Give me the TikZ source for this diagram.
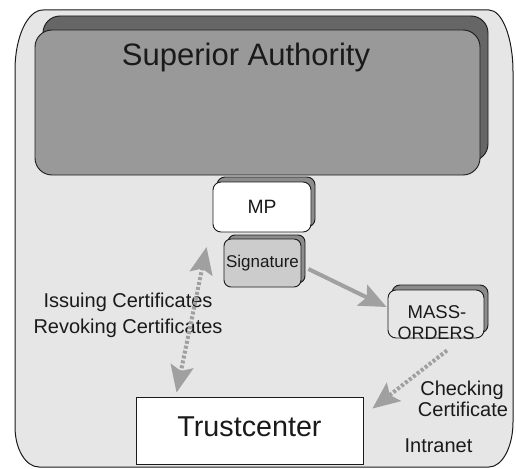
\documentclass[tikz,border=0pt]{standalone}
\usepackage{fontspec}
\setmainfont{Liberation Sans}
\usetikzlibrary{arrows.meta,shadows,calc}
\definecolor{bgc}{HTML}{E6E6E6}
\definecolor{safront}{HTML}{999999}
\definecolor{saback}{HTML}{666666}
\definecolor{shadowc}{HTML}{8C8C8C}
\definecolor{sigfill}{HTML}{CCCCCC}
\definecolor{arrc}{HTML}{A0A0A0}
\definecolor{txt}{HTML}{1A1A1A}
\begin{document}
\begin{tikzpicture}[x=1pt,y=-1pt,
  lbl/.style={inner sep=0pt, anchor=base, text=txt, font=\fontsize{20}{24}\selectfont},
  boxbase/.style={draw=txt, line width=0.9pt, inner sep=0pt, text=txt},
  solidarrow/.style={draw=arrc, line width=4pt, -{Stealth[length=27pt,width=23pt,inset=5pt]}},
  dotarrow/.style={draw=arrc, line width=4pt, dash pattern=on 3pt off 2pt},
  tipa/.tip={Stealth[length=27pt,width=23pt,inset=5pt]}
]
\useasboundingbox (0,0) rectangle (516,468);

% outer intranet frame
\draw[fill=bgc, line width=1pt, draw=txt]
  (15,70) .. controls (15,36.9) and (27.5,10) .. (43,10)
  -- (489,10) .. controls (502.25,10) and (513,37.8) .. (513,72)
  -- (513,422) .. controls (513,446.9) and (502.25,467) .. (489,467)
  -- (39,467) .. controls (25.75,467) and (15,449.1) .. (15,427)
  -- cycle;

% Superior Authority
\node[boxbase, fill=safront, rounded corners=17pt,
      minimum width=445pt, minimum height=145pt,
      general shadow={shadow xshift=8pt, shadow yshift=14pt, fill=saback, draw=txt, line width=0.9pt}]
  (sa) at (257.5,102.5) {};
\node[lbl, font=\fontsize{31}{36}\selectfont] (satext) at (246,66) {Superior Authority};

% MP
\node[boxbase, fill=white, rounded corners=8pt,
      minimum width=98pt, minimum height=50pt,
      font=\fontsize{19.3}{23}\selectfont,
      general shadow={shadow xshift=4pt, shadow yshift=5pt, fill=shadowc, draw=txt, line width=0.9pt}]
  (mp) at (262,207) {MP};

% Signature
\node[boxbase, fill=sigfill, rounded corners=7pt,
      minimum width=77pt, minimum height=48pt,
      font=\fontsize{17}{20}\selectfont,
      general shadow={shadow xshift=4pt, shadow yshift=4pt, fill=shadowc, draw=txt, line width=0.9pt}]
  (sig) at (262.5,263) {Signature};

% MASS-ORDERS
\node[boxbase, fill=bgc, rounded corners=8pt,
      minimum width=96pt, minimum height=48pt,
      general shadow={shadow xshift=4pt, shadow yshift=5pt, fill=shadowc, draw=txt, line width=0.9pt}]
  (mass) at (436,314) {};
\node[lbl, font=\fontsize{18.5}{22}\selectfont] (massA) at (437,318) {MASS-};
\node[lbl, font=\fontsize{18}{22}\selectfont] (massB) at (436,339) {ORDERS};

% Trustcenter
\node[boxbase, fill=white, minimum width=227pt, minimum height=67pt,
      text depth=8pt, font=\fontsize{28.7}{34}\selectfont]
  (tc) at (249.5,430.5) {Trustcenter};

% labels
\node[lbl] (iss) at (128,307) {Issuing Certificates};
\node[lbl] (rev) at (128,333) {Revoking Certificates};
\node[lbl] (chk) at (462,395) {Checking};
\node[lbl] (cert) at (463,416) {Certificate};
\node[lbl] (intra) at (438.5,452) {Intranet};

% connectors
\draw[solidarrow] ($(sig.east)+(7,6)$) -- ($(mass.west)+(-1,-7)$);
\draw[dotarrow, tipa-tipa] ($(sig.west)+(-17,-16)$) -- ($(tc.north west)+(41,-4)$);
\draw[dotarrow, -tipa] ($(mass.south)+(11,12)$) -- ($(tc.north east)+(9,12)$);
\end{tikzpicture}
\end{document}
